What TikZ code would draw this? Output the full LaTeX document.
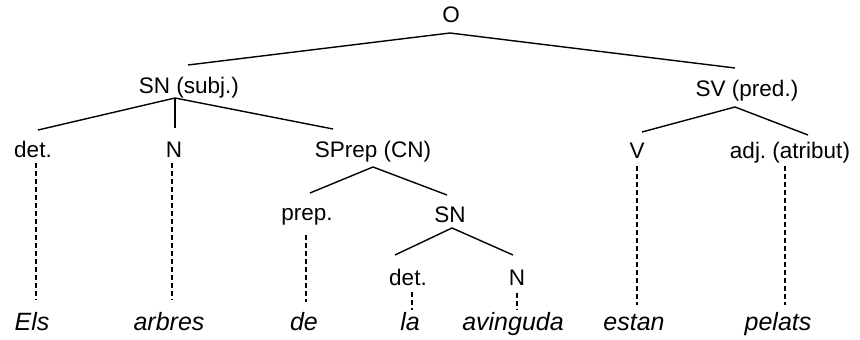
\documentclass[tikz,border=0pt]{standalone}
\usepackage{fontspec}
\setmainfont{Liberation Sans}
\frenchspacing
\begin{document}
\begin{tikzpicture}[x=1pt,y=-1pt,
  lab/.style={anchor=base, inner sep=0pt, font=\fontsize{22.5}{24}\selectfont},
  word/.style={anchor=base, inner sep=0pt, font=\fontsize{25}{28}\selectfont\itshape},
  branch/.style={line width=1.4pt},
  dashline/.style={line width=1.3pt, dash pattern=on 5pt off 3pt}]
\useasboundingbox (0,0) rectangle (860,340);
% labels
\node[lab] (o) at (451,23) {O};
\node[lab] (sn) at (189,93) {SN (subj.)};
\node[lab] (sv) at (747,96) {SV (pred.)};
\node[lab] (det) at (33,157) {det.};
\node[lab] (n) at (174,157) {N};
\node[lab] (sprep) at (373,157) {SPrep (CN)};
\node[lab] (v) at (637,158) {V};
\node[lab] (adj) at (790,158) {adj. (atribut)};
\node[lab] (prep) at (307,220) {prep.};
\node[lab] (sn2) at (450,222) {SN};
\node[lab] (det2) at (408,285) {det.};
\node[lab] (n2) at (517,285) {N};
% words
\node[word] (els) at (32,330) {Els};
\node[word] (arbres) at (169,330) {arbres};
\node[word] (de) at (304,330) {de};
\node[word] (la) at (410,330) {la};
\node[word] (avinguda) at (513,330) {avinguda};
\node[word] (estan) at (634,330) {estan};
\node[word] (pelats) at (778,330) {pelats};
% attachment points
\coordinate (o-b) at (450,33);
\coordinate (sn-t) at (188,65);
\coordinate (sv-t) at (735,68);
\coordinate (sn-b) at (175,98);
\coordinate (det-t) at (38,130);
\coordinate (n-t) at (175,128);
\coordinate (sprep-t) at (333,129);
\coordinate (sv-b) at (735,107);
\coordinate (v-t) at (642,132);
\coordinate (adj-t) at (808,135);
\coordinate (sprep-b) at (373,167);
\coordinate (prep-t) at (310,193);
\coordinate (sn2-t) at (447,195);
\coordinate (sn2-b) at (452,228);
\coordinate (det2-t) at (395,255);
\coordinate (n2-t) at (513,255);
% dashed ends
\coordinate (det-d) at (36,163);   \coordinate (els-d) at (36,300);
\coordinate (n-d) at (172,163);    \coordinate (arbres-d) at (172,300);
\coordinate (prep-d) at (306,235); \coordinate (de-d) at (306,302);
\coordinate (det2-d) at (412,292); \coordinate (la-d) at (412,310);
\coordinate (n2-d) at (517,293);   \coordinate (avinguda-d) at (517,310);
\coordinate (v-d) at (637,166);    \coordinate (estan-d) at (637,305);
\coordinate (adj-d) at (785,166);  \coordinate (pelats-d) at (785,305);
% branches
\draw[branch] (sn-t) -- (o-b) -- (sv-t);
\draw[branch] (det-t) -- (sn-b) -- (sprep-t);
\draw[branch] (sn-b) -- (n-t);
\draw[branch] (v-t) -- (sv-b) -- (adj-t);
\draw[branch] (prep-t) -- (sprep-b) -- (sn2-t);
\draw[branch] (det2-t) -- (sn2-b) -- (n2-t);
% dashed
\draw[dashline] (det-d) -- (els-d);
\draw[dashline] (n-d) -- (arbres-d);
\draw[dashline] (prep-d) -- (de-d);
\draw[dashline] (det2-d) -- (la-d);
\draw[dashline] (n2-d) -- (avinguda-d);
\draw[dashline] (v-d) -- (estan-d);
\draw[dashline] (adj-d) -- (pelats-d);
\end{tikzpicture}
\end{document}
